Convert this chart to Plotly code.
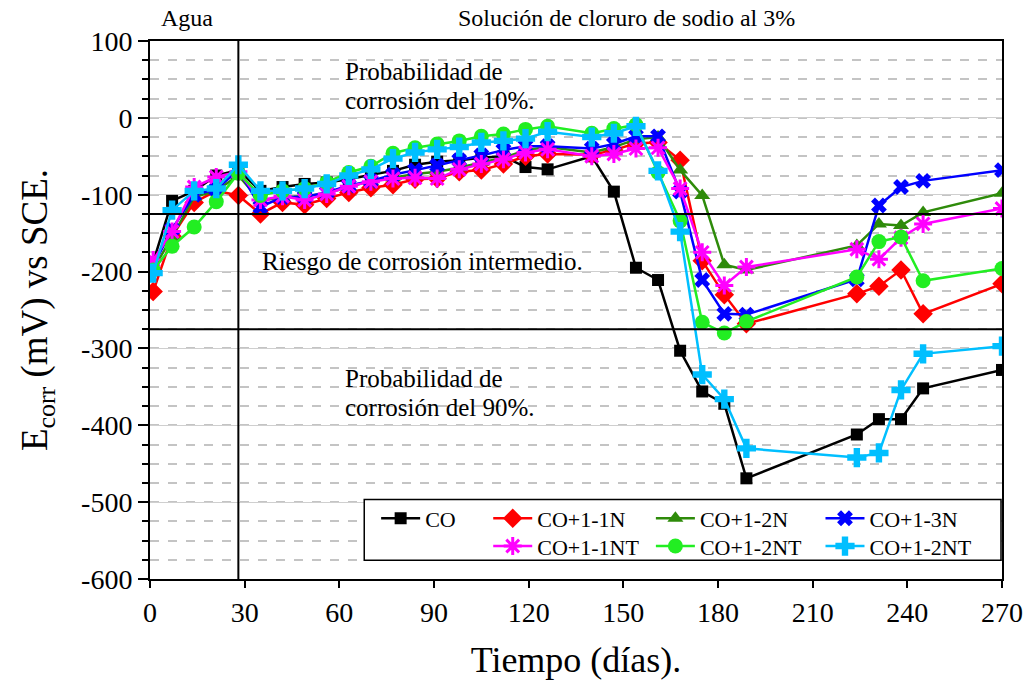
import plotly.graph_objects as go

# ---------------- data ----------------
dias = [1, 7, 14, 21, 28, 35, 42, 49, 56, 63, 70, 77, 84, 91, 98, 105, 112, 119, 126,
        140, 147, 154, 161, 168, 175, 182, 189, 224, 231, 238, 245, 270]

co = [-188, -108, -95, -75, -68, -95, -90, -86, -84, -80, -74, -69, -61, -57, -55, -52, -50, -64, -67,
      -50, -96, -195, -211, -303, -356, -372, -469, -412, -392, -392, -352, -328]
co_1_1n = [-226, -154, -110, -95, -101, -125, -110, -113, -105, -97, -91, -87, -80, -79, -70, -68, -60, -50, -47,
           -48, -42, -33, -32, -55, -186, -230, -268, -229, -219, -198, -255, -216]
co_1_2n = [-197, -155, -103, -95, -75, -108, -103, -102, -98, -90, -82, -78, -73, -70, -65, -58, -52, -42, -38,
           -45, -38, -28, -25, -68, -101, -191, -198, -166, -138, -140, -123, -98]
co_1_3n = [-192, -145, -100, -93, -68, -116, -103, -103, -97, -88, -82, -74, -68, -62, -55, -49, -42, -37, -37,
           -40, -34, -24, -24, -96, -211, -255, -256, -210, -114, -90, -82, -68]
co_1_1nt = [-185, -148, -90, -77, -70, -107, -102, -107, -99, -89, -83, -79, -78, -79, -67, -60, -54, -45, -41,
            -50, -47, -40, -39, -92, -175, -218, -194, -171, -184, -156, -138, -118]
co_1_2nt = [-198, -167, -142, -109, -72, -101, -95, -92, -84, -71, -63, -46, -39, -34, -30, -24, -21, -15, -11,
            -20, -14, -9, -71, -134, -266, -280, -265, -207, -161, -155, -212, -196]
co_1_2nt_b = [-202, -120, -95, -92, -61, -95, -95, -92, -86, -75, -67, -53, -45, -41, -38, -32, -30, -27, -18,
              -25, -20, -11, -69, -148, -334, -366, -430, -442, -436, -354, -307, -297]

series_names = ["CO", "CO+1-1N", "CO+1-2N", "CO+1-3N", "CO+1-1NT", "CO+1-2NT", "CO+1-2NT"]
series_values = [co, co_1_1n, co_1_2n, co_1_3n, co_1_1nt, co_1_2nt, co_1_2nt_b]

y_ticks = [100, 0, -100, -200, -300, -400, -500, -600]
x_ticks = [0, 30, 60, 90, 120, 150, 180, 210, 240, 270]

limite_10 = -125
limite_90 = -275
cambio_medio = 28

# ---------------- styles ----------------
FONT = "Liberation Serif, Times New Roman, serif"
colors = ["#000000", "#FF0000", "#2E8B0A", "#0000FF", "#FF00FF", "#22EE22", "#00BFFF"]
symbols = ["square", "diamond", "triangle-up", "x", "asterisk-open", "circle", "cross"]
msizes = [12, 15, 14, 14, 15, 15, 16]

# plot area pixel geometry
L, R, T, B = 150, 1009, 41, 583
W, H = R - L, B - T
def px(xp):
    return (xp - L) / W
def py(yp):
    return (B - yp) / H

# legend marker centre positions (pixel) for each item
leg_pos = [(398, 522), (511, 522), (675, 522), (846, 522),
           (511, 550), (675, 550), (846, 550)]

fig = go.Figure()
for i, (name, vals) in enumerate(zip(series_names, series_values)):
    mk = dict(symbol=symbols[i], size=msizes[i], color=colors[i])
    if symbols[i] == "asterisk-open":
        mk["line"] = dict(color=colors[i], width=3)
    else:
        mk["line"] = dict(width=0)
    lg = "legend" if i == 0 else f"legend{i+1}"
    fig.add_trace(go.Scatter(
        x=dias, y=vals, name=name, mode="lines+markers",
        line=dict(color=colors[i], width=2.5), marker=mk, legend=lg,
    ))

layout_legends = {}
for i, (lx, ly) in enumerate(leg_pos):
    key = "legend" if i == 0 else f"legend{i+1}"
    layout_legends[key] = dict(
        x=px(lx - 20), y=py(ly), xanchor="left", yanchor="middle",
        orientation="h", bgcolor="rgba(0,0,0,0)", borderwidth=0,
        font=dict(family=FONT, size=22, color="black"),
        itemwidth=39, tracegroupgap=0,
    )

fig.update_layout(
    width=1035, height=685,
    margin=dict(l=L, r=1035 - R, t=T, b=685 - B),
    paper_bgcolor="white", plot_bgcolor="white",
    font=dict(family=FONT, color="black"),
    showlegend=True,
    **layout_legends,
)

fig.update_xaxes(
    range=[0, 270], tickvals=x_ticks, ticktext=[str(v) for v in x_ticks],
    ticks="outside", ticklen=7, tickwidth=2, tickcolor="black",
    showline=True, linewidth=2, linecolor="black", mirror=True,
    showgrid=False, zeroline=False,
    tickfont=dict(family=FONT, size=28, color="black"),
    title=dict(text="Tiempo (días).", font=dict(family=FONT, size=36, color="black"), standoff=20),
)
fig.update_yaxes(
    range=[-600, 100], tickvals=y_ticks, ticktext=[str(v) for v in y_ticks],
    ticks="outside", ticklen=10, tickwidth=2, tickcolor="black",
    showline=True, linewidth=2, linecolor="black", mirror=True,
    showgrid=True, gridcolor="#CFCFCF", gridwidth=1, zeroline=False,
    minor=dict(dtick=25, tick0=0, ticks="outside", ticklen=6, tickwidth=2, tickcolor="black",
               showgrid=True, gridcolor="#C4C4C4", gridwidth=2, griddash="9px,9px"),
    tickfont=dict(family=FONT, size=28, color="black"),
    title=dict(text="E<sub>corr</sub> (mV) vs SCE.", font=dict(family=FONT, size=37, color="black"), standoff=22),
)

# reference lines
fig.add_shape(type="line", xref="paper", yref="y", x0=0, x1=1, y0=limite_10, y1=limite_10,
              line=dict(color="black", width=2))
fig.add_shape(type="line", xref="paper", yref="y", x0=0, x1=1, y0=limite_90, y1=limite_90,
              line=dict(color="black", width=2))
fig.add_shape(type="line", xref="x", yref="paper", x0=cambio_medio, x1=cambio_medio, y0=0, y1=1,
              line=dict(color="black", width=2))
# legend box
fig.add_shape(type="rect", xref="paper", yref="paper",
              x0=px(366), x1=px(1008), y0=py(564), y1=py(503),
              line=dict(color="black", width=1.5), fillcolor="white", layer="above")

ann_font = dict(family=FONT, size=25, color="black")
top_font = dict(family=FONT, size=24, color="black")
annots = [
    dict(text="Agua", x=px(187), y=py(18), xanchor="center", font=top_font),
    dict(text="Solución de cloruro de sodio al 3%", x=px(630), y=py(18), xanchor="center", font=top_font),
    dict(text="Probabilidad de", x=px(345), y=py(72), xanchor="left", font=ann_font),
    dict(text="corrosión del 10%.", x=px(345), y=py(101), xanchor="left", font=ann_font),
    dict(text="Riesgo de corrosión intermedio.", x=px(261), y=py(263), xanchor="left", font=ann_font),
    dict(text="Probabilidad de", x=px(345), y=py(381), xanchor="left", font=ann_font),
    dict(text="corrosión del 90%.", x=px(345), y=py(410), xanchor="left", font=ann_font),
]
for a in annots:
    fig.add_annotation(xref="paper", yref="paper", yanchor="middle", showarrow=False, **a)

fig.write_html("out.html")
